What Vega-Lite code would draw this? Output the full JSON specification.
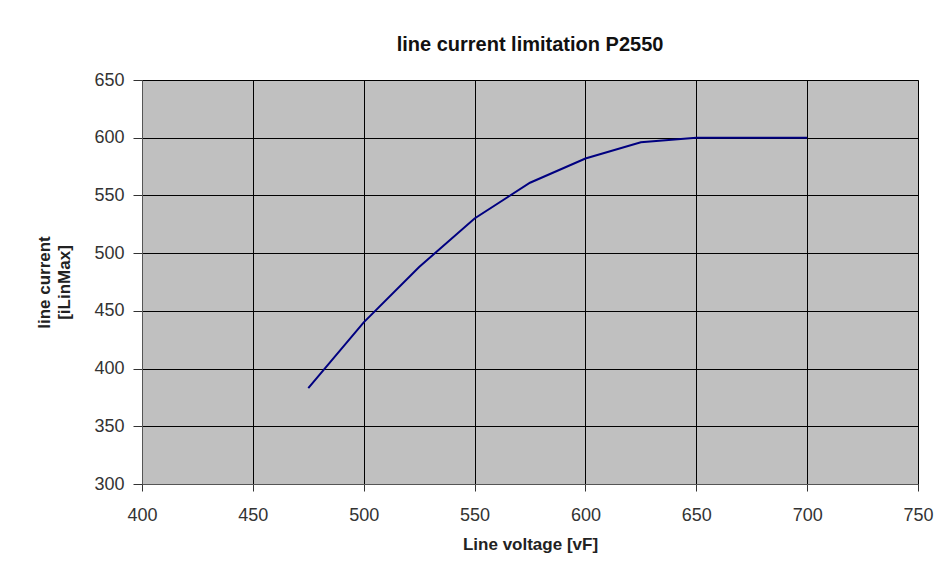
{
  "$schema": "https://vega.github.io/schema/vega-lite/v6.json",
  "width": 776,
  "height": 404,
  "autosize": {"type": "none"},
  "padding": {"left": 142, "top": 80, "right": 17, "bottom": 87},
  "background": "white",
  "title": {
    "text": "line current limitation P2550",
    "font": "Liberation Sans",
    "fontSize": 20,
    "fontWeight": "bold",
    "color": "#111111",
    "anchor": "middle",
    "frame": "group",
    "baseline": "alphabetic",
    "offset": 0
  },
  "data": {
    "values": [
      {"voltage": 475, "current": 383},
      {"voltage": 500, "current": 440},
      {"voltage": 525, "current": 488},
      {"voltage": 550, "current": 530},
      {"voltage": 575, "current": 561},
      {"voltage": 600, "current": 582},
      {"voltage": 625, "current": 596},
      {"voltage": 650, "current": 600},
      {"voltage": 675, "current": 600},
      {"voltage": 700, "current": 600}
    ]
  },
  "mark": {"type": "line", "color": "#000080", "strokeWidth": 2},
  "encoding": {
    "x": {
      "field": "voltage",
      "type": "quantitative",
      "scale": {"domain": [400, 750], "nice": false, "zero": false},
      "axis": {
        "title": "Line voltage [vF]",
        "values": [400, 450, 500, 550, 600, 650, 700, 750],
        "tickSize": 7,
        "labelPadding": 15,
        "labelFlush": false,
        "labelOverlap": false,
        "titlePadding": 12
      }
    },
    "y": {
      "field": "current",
      "type": "quantitative",
      "scale": {"domain": [300, 650], "nice": false, "zero": false},
      "axis": {
        "title": ["line current", "[iLinMax]"],
        "values": [300, 350, 400, 450, 500, 550, 600, 650],
        "tickSize": 9,
        "labelPadding": 9,
        "labelFlush": false,
        "labelOverlap": false,
        "titlePadding": 20,
        "titleLineHeight": 20
      }
    }
  },
  "config": {
    "view": {"fill": "#c0c0c0", "stroke": "#808080", "strokeWidth": 1},
    "axis": {
      "grid": true,
      "gridColor": "#000000",
      "gridWidth": 1,
      "gridOpacity": 1,
      "domain": true,
      "domainColor": "#555555",
      "tickColor": "#333333",
      "labelFont": "Liberation Sans",
      "labelFontSize": 18,
      "labelColor": "#333333",
      "titleFont": "Liberation Sans",
      "titleFontSize": 17,
      "titleFontWeight": "bold",
      "titleColor": "#222222"
    }
  }
}
